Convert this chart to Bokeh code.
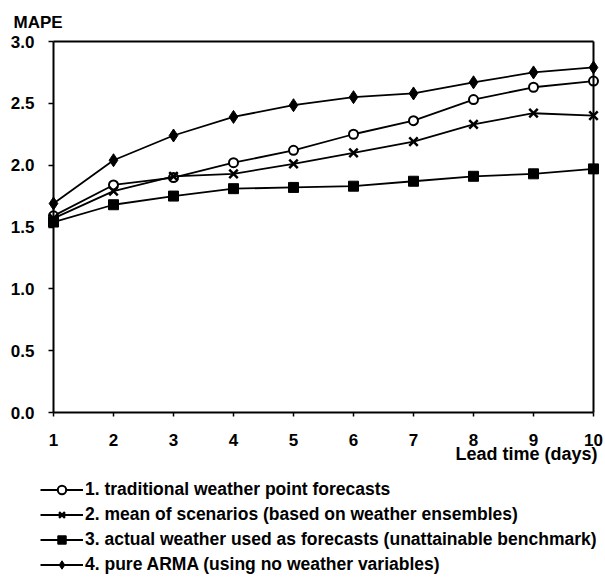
from bokeh.plotting import figure
from bokeh.models import (Legend, LegendItem, Label, LinearAxis, FixedTicker,
                          PrintfTickFormatter, Range1d)
from bokeh.embed import file_html
from bokeh.resources import INLINE

lead_days = [1, 2, 3, 4, 5, 6, 7, 8, 9, 10]
traditional = [1.59, 1.84, 1.90, 2.02, 2.12, 2.25, 2.36, 2.53, 2.63, 2.68]
scenarios = [1.57, 1.79, 1.91, 1.93, 2.01, 2.10, 2.19, 2.33, 2.42, 2.40]
actual = [1.54, 1.68, 1.75, 1.81, 1.82, 1.83, 1.87, 1.91, 1.93, 1.97]
arma = [1.69, 2.04, 2.24, 2.39, 2.485, 2.55, 2.58, 2.67, 2.75, 2.79]
y_ticks = [0.0, 0.5, 1.0, 1.5, 2.0, 2.5, 3.0]
legend_labels = [
    "1. traditional weather point forecasts",
    "2. mean of scenarios (based on weather ensembles)",
    "3. actual weather used as forecasts (unattainable benchmark)",
    "4. pure ARMA (using no weather variables)",
]

FONT = "Liberation Sans"
W, H = 605, 577
# frame covers whole canvas; data area: x 1..10 -> px 53..593, y 0..3 -> px 412..41 (from top)
px_x = 60.0
px_y = 371.0 / 3.0
x_range = Range1d(1 - 53 / px_x, 10 + (W - 593) / px_x)
y_range = Range1d(0 - (H - 412) / px_y, 3 + 41 / px_y)

p = figure(width=W, height=H, output_backend="svg", toolbar_location=None,
           x_range=x_range, y_range=y_range, x_axis_location=None, y_axis_location=None,
           min_border=0)
p.xgrid.visible = False
p.ygrid.visible = False
p.outline_line_color = None
p.background_fill_color = "white"
p.border_fill_color = "white"

xaxis = LinearAxis(fixed_location=0, bounds=(1, 10), ticker=FixedTicker(ticks=lead_days))
yaxis = LinearAxis(fixed_location=1, bounds=(0, 3), ticker=FixedTicker(ticks=y_ticks),
                   formatter=PrintfTickFormatter(format="%.1f"))
for ax in (xaxis, yaxis):
    ax.axis_line_color = "black"
    ax.axis_line_width = 2
    ax.major_tick_line_color = "black"
    ax.major_tick_line_width = 1.5
    ax.minor_tick_line_color = None
    ax.major_tick_in = 0
    ax.major_label_text_font = FONT
    ax.major_label_text_font_style = "bold"
    ax.major_label_text_font_size = "17px"
    ax.major_label_text_color = "black"
xaxis.major_tick_out = 4
xaxis.major_label_standoff = 17
yaxis.major_tick_out = 5
yaxis.major_label_standoff = 14
p.add_layout(xaxis, "below")
p.add_layout(yaxis, "left")

top_line = LinearAxis(fixed_location=3, bounds=(1, 10), ticker=FixedTicker(ticks=[]),
                      major_label_text_font_size="0px", axis_line_width=2, axis_line_color="black")
right_line = LinearAxis(fixed_location=10, bounds=(0, 3), ticker=FixedTicker(ticks=[]),
                        major_label_text_font_size="0px", axis_line_width=2, axis_line_color="black")
p.add_layout(top_line, "above")
p.add_layout(right_line, "right")

lw = 1.8
l1 = p.line(lead_days, traditional, line_color="black", line_width=lw)
m1 = p.scatter(lead_days, traditional, marker="circle", size=9, line_color="black",
               line_width=2, fill_color="white")
l2 = p.line(lead_days, scenarios, line_color="black", line_width=lw)
m2 = p.scatter(lead_days, scenarios, marker="x", size=12, line_color="black", line_width=2.5)
l3 = p.line(lead_days, actual, line_color="black", line_width=lw)
m3 = p.scatter(lead_days, actual, marker="square", size=10, line_color="black", fill_color="black")
l4 = p.line(lead_days, arma, line_color="black", line_width=lw)
m4 = p.scatter(lead_days, arma, marker="diamond", size=13, line_color="black", fill_color="black")

p.add_layout(Label(x=1, y=3, x_offset=-40, y_offset=19, text="MAPE", text_font=FONT,
                   text_font_style="bold", text_font_size="17px", text_baseline="alphabetic",
                   text_color="black"))
p.add_layout(Label(x=10, y=0, x_offset=4, y_offset=-41, text="Lead time (days)", text_font=FONT,
                   text_font_size="18px", text_font_style="bold", text_align="right",
                   text_baseline="alphabetic", text_color="black"))

items = [LegendItem(label=legend_labels[0], renderers=[l1, m1]),
         LegendItem(label=legend_labels[1], renderers=[l2, m2]),
         LegendItem(label=legend_labels[2], renderers=[l3, m3]),
         LegendItem(label=legend_labels[3], renderers=[l4, m4])]
legend = Legend(items=items, location=(40, 2), padding=0, margin=0, spacing=4,
                glyph_width=43, glyph_height=21, label_height=21, label_standoff=2,
                label_text_font=FONT, label_text_font_style="bold", label_text_font_size="17.5px",
                label_text_color="black", border_line_color=None, background_fill_alpha=0)
p.add_layout(legend, "center")

open("out.html", "w").write(file_html(p, INLINE))
